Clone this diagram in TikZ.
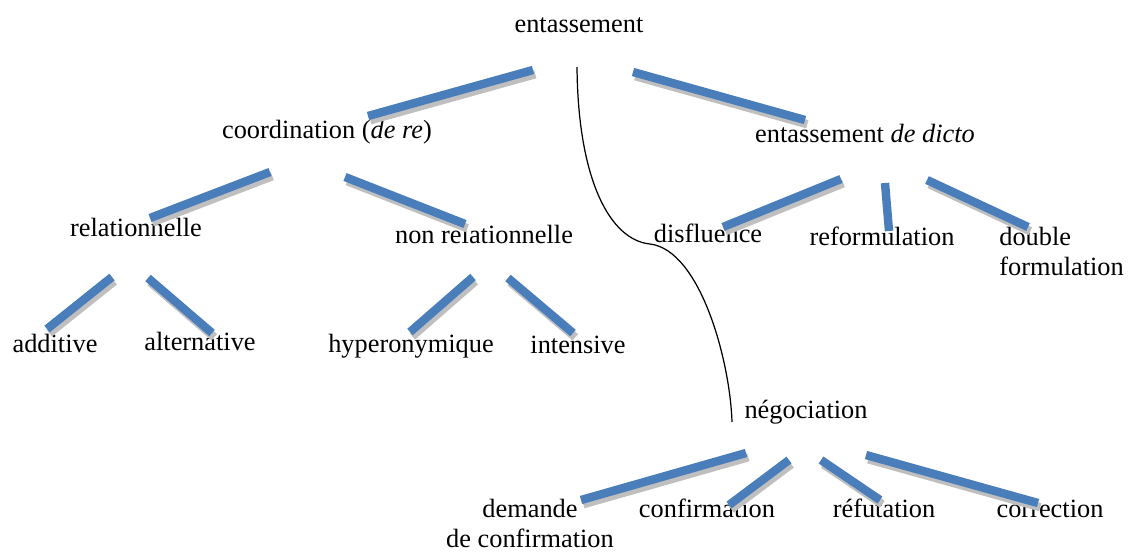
\documentclass[tikz,border=0pt]{standalone}
\usepackage{fontspec}
\setmainfont{Liberation Serif}
\usetikzlibrary{arrows}
\definecolor{barblue}{HTML}{4A7EBB}

\begin{document}
\begin{tikzpicture}[x=0.02cm,y=-0.02cm]
\tikzset{word/.style = {inner sep=0pt,font=\fontsize{15}{17}\selectfont}}
\tikzset{bar/.style = {draw=barblue,line width=4.8pt}}
\tikzset{shbar/.style = {bar,preaction={draw=gray!50,line width=4.8pt,transform canvas={xshift=1.3pt,yshift=-2.4pt}}}}
\tikzset{link/.style = {draw=black,line width=0.7pt}}
\useasboundingbox (0,0) rectangle (1131,552);

% labels
\node[word,anchor=base] (root) at (579,32) {entassement};
\node[word,anchor=base] (coord) at (327,138) {coordination (\textit{de re})};
\node[word,anchor=base] (dicto) at (865,142) {entassement \textit{de dicto}};
\node[word,anchor=base] (rel) at (136,236) {relationnelle};
\node[word,anchor=base] (nonrel) at (484,243) {non relationnelle};
\node[word,anchor=base] (disfl) at (708,242) {disfluence};
\node[word,anchor=base] (reform) at (882,245) {reformulation};
\node[word,anchor=north west,align=left] (double) at (999,227) {double\\formulation};
\node[word,anchor=base] (add) at (55,352) {additive};
\node[word,anchor=base] (alt) at (200,350) {alternative};
\node[word,anchor=base] (hyper) at (411,352) {hyperonymique};
\node[word,anchor=base] (inten) at (578,353) {intensive};
\node[word,anchor=base] (nego) at (806,418) {négociation};
\node[word,anchor=north,align=center] (demande) at (530,499) {demande\\de confirmation};
\node[word,anchor=base] (confirm) at (707,517) {confirmation};
\node[word,anchor=base] (refut) at (884,517) {réfutation};
\node[word,anchor=base] (correct) at (1050,517) {correction};

% bar ends
\coordinate (r1) at (368,116);  \coordinate (r2) at (533,70);
\coordinate (r3) at (633,72);   \coordinate (r4) at (805,120);
\coordinate (c1) at (150,218);  \coordinate (c2) at (270,172);
\coordinate (c3) at (345,177);  \coordinate (c4) at (465,224);
\coordinate (d1) at (723,227);  \coordinate (d2) at (841,179);
\coordinate (d3) at (885,183);  \coordinate (d4) at (889,231);
\coordinate (d5) at (927,180);  \coordinate (d6) at (1028,227);
\coordinate (l1) at (112,277);  \coordinate (l2) at (47,329);
\coordinate (l3) at (148,278);  \coordinate (l4) at (212,333);
\coordinate (n1) at (473,277);  \coordinate (n2) at (410,332);
\coordinate (n3) at (508,278);  \coordinate (n4) at (573,333);
\coordinate (g1) at (581,500);  \coordinate (g2) at (746,453);
\coordinate (g3) at (729,505);  \coordinate (g4) at (789,460);
\coordinate (g5) at (821,460);  \coordinate (g6) at (880,500);
\coordinate (g7) at (866,455);  \coordinate (g8) at (1038,503);
\coordinate (cs) at (577,67);   \coordinate (ce) at (732,422);

\draw[shbar] (r1) -- (r2);
\draw[shbar] (r3) -- (r4);
\draw[shbar] (c1) -- (c2);
\draw[shbar] (c3) -- (c4);
\draw[shbar] (d1) -- (d2);
\draw[bar] (d3) -- (d4);
\draw[shbar] (d5) -- (d6);
\draw[shbar] (l1) -- (l2);
\draw[shbar] (l3) -- (l4);
\draw[shbar] (n1) -- (n2);
\draw[shbar] (n3) -- (n4);
\draw[shbar] (g1) -- (g2);
\draw[shbar] (g3) -- (g4);
\draw[shbar] (g5) -- (g6);
\draw[shbar] (g7) -- (g8);

\draw[link] (cs) .. controls (578,180) and (610,240) .. (650,244)
  .. controls (700,250) and (730,360) .. (ce);
\end{tikzpicture}
\end{document}
